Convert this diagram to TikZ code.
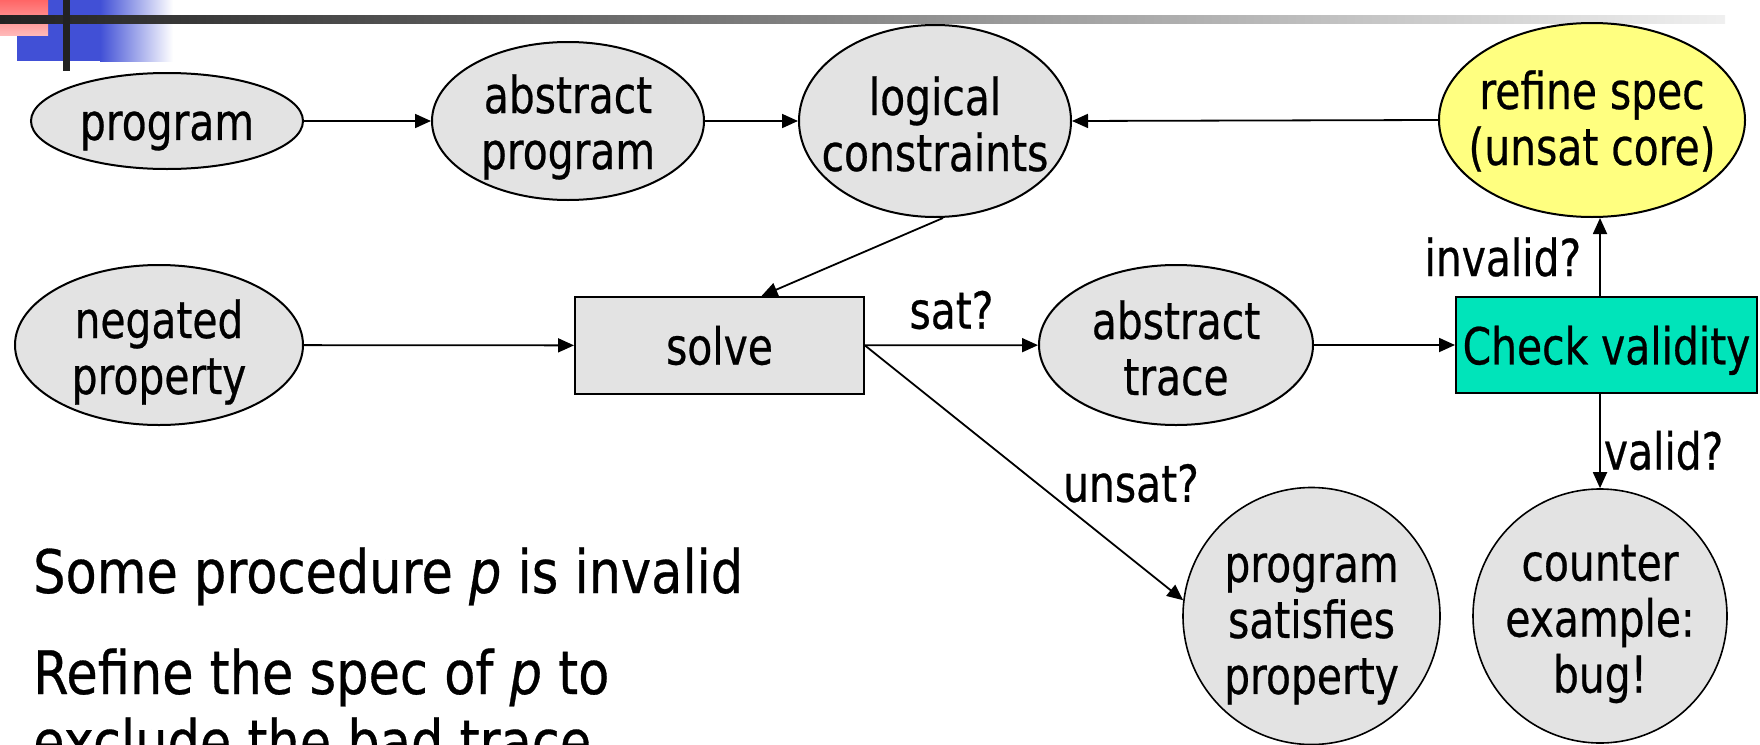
\documentclass[tikz,border=0pt]{standalone}
\usepackage{fontspec}
\setmainfont{DejaVu Sans}[FakeStretch=0.8,FakeBold=0.5]
\newfontfamily\bodyfont{DejaVu Sans}[FakeStretch=0.85,FakeBold=0.5]
\usetikzlibrary{shapes.geometric,arrows.meta}

\definecolor{nodegray}{RGB}{227,227,227}
\definecolor{specyellow}{RGB}{255,255,128}
\definecolor{checkgreen}{RGB}{0,228,186}
\definecolor{barblue}{RGB}{65,80,214}
\definecolor{barpink}{RGB}{255,102,102}
\definecolor{barpinklight}{RGB}{255,185,185}
\definecolor{bardark}{RGB}{34,34,34}

\begin{document}
\begin{tikzpicture}[x=1pt,y=-1pt,
  shape line/.style={draw=black,line width=2pt},
  ell/.style={ellipse,shape line,fill=nodegray,inner sep=0pt},
  round/.style={circle,draw=black,line width=1.6pt,fill=nodegray,inner sep=0pt},
  box/.style={rectangle,shape line,fill=nodegray,inner sep=0pt,
              font=\fontsize{51}{56}\selectfont},
  lbl/.style={inner sep=0pt,align=center,font=\fontsize{51}{56}\selectfont},
  body/.style={anchor=base west,inner sep=0pt,
               font={\bodyfont\fontsize{60}{72}\selectfont}},
  arr/.style={line width=1.8pt,-{Triangle[length=16pt,width=14pt]}},
]
\useasboundingbox (0,0) rectangle (1760,744);

% slide header ornament
\fill[barblue] (17,0) rectangle (100,61);
\shade[left color=barblue,right color=white] (100,0) rectangle (173,61);
\shade[top color=barpink,bottom color=barpinklight] (0,0) rectangle (48,35);
\shade[left color=bardark,right color=white!94!black] (0,15) rectangle (1725,23);
\fill[bardark] (63,0) rectangle (70,71);

% top row
\node[ell,minimum width=272,minimum height=96] (prog) at (167,121) {};
\node[lbl] (progT) at ([yshift=-10]prog.center) {program};
\node[ell,minimum width=272,minimum height=158] (absp) at (568,121) {};
\node[lbl] (abspT) at ([yshift=-6]absp.center) {abstract\\program};
\node[ell,minimum width=272,minimum height=192] (logc) at (935,121) {};
\node[lbl] (logcT) at ([yshift=-3]logc.center) {logical\\constraints};
\node[ell,fill=specyellow,minimum width=306,minimum height=194] (refn) at (1592,120) {};
\node[lbl] (refnT) at ([yshift=-1]refn.center) {refine spec\\(unsat core)};

% middle row
\node[ell,minimum width=288,minimum height=160] (neg) at (159,345) {};
\node[lbl] (negT) at ([yshift=-7]neg.center) {negated\\property};
\node[box,minimum width=289,minimum height=97] (solve) at (719.5,345.5) {solve};
\node[ell,minimum width=274,minimum height=160] (atr) at (1176,345) {};
\node[lbl] (atrT) at ([yshift=-3]atr.center) {abstract\\trace};
\node[box,fill=checkgreen,minimum width=301,minimum height=96,text depth=0pt]
  (chk) at (1606.5,345) {Check validity};

% outcomes
\node[round,minimum size=257] (ps) at (1311.5,616) {};
\node[lbl] (psT) at ([yshift=-13]ps.center) {program\\satisfies\\property};
\node[round,minimum size=254] (ce) at (1600,616) {};
\node[lbl] (ceT) at ([yshift=-8]ce.center) {counter\\example:\\bug!};

% connectors
\draw[arr] (prog) -- (absp);
\draw[arr] (absp) -- (logc);
\draw[arr] (refn.west) -- (logc.east);
\draw[arr] ([xshift=8]logc.south) -- ([xshift=42]solve.north);
\draw[arr] (neg) -- (solve);
\draw[arr] (solve) -- node[lbl,above=15pt] (satL) {sat?} (atr);
\draw[arr] (atr) -- (chk);
\draw[arr] (chk.north -| ce) -- node[lbl,left=18pt] (invL) {invalid?} (refn.south -| ce);
\draw[arr] (chk.south -| ce) -- node[lbl,pos=0.6,right=3pt] (valL) {valid?} (ce.north);
\draw[arr] (solve.east) -- node[lbl,pos=0.62,anchor=south west] (unsL) {unsat?} (ps.173);

% notes
\node[body] (note1) at (33,593) {Some procedure \textit{p} is invalid};
\node[body] (note2) at (33,694) {Refine the spec of \textit{p} to};
\node[body] (note3) at (33,763) {exclude the bad trace};
\end{tikzpicture}
\end{document}
